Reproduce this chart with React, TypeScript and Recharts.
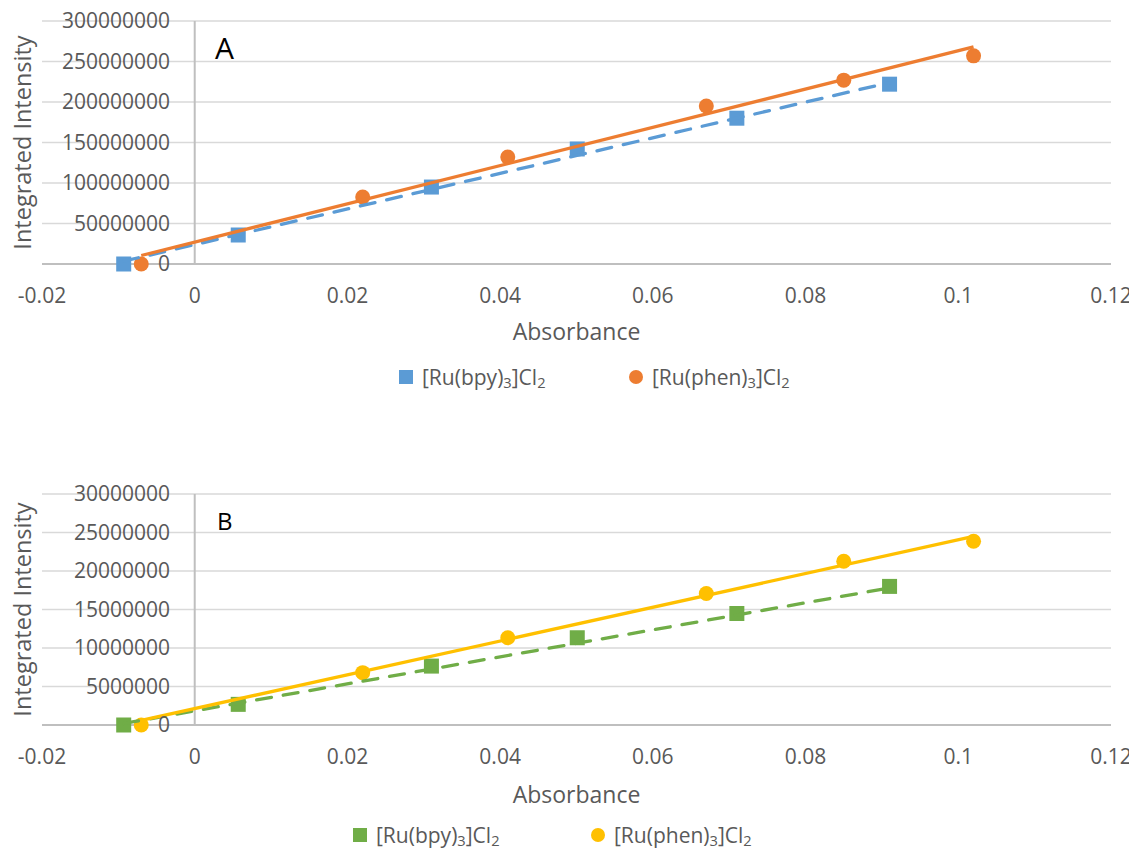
import { ScatterChart, Scatter, XAxis, YAxis, CartesianGrid, ReferenceLine } from 'recharts';

const FONT = '"Open Sans", "Liberation Sans", sans-serif';
const TEXT = '#595959';

// Absorbance values shared by both panels
const absBpy = [-0.0093, 0.0057, 0.031, 0.0501, 0.071, 0.091];
const absPhen = [-0.007, 0.022, 0.041, 0.067, 0.085, 0.102];

// Panel A intensities
const intensityBpyA = [0, 35800000, 95000000, 142000000, 180000000, 222000000];
const intensityPhenA = [0, 82700000, 132000000, 195000000, 227000000, 257000000];

// Panel B intensities
const intensityBpyB = [0, 2680000, 7650000, 11330000, 14480000, 18000000];
const intensityPhenB = [0, 6800000, 11330000, 17070000, 21260000, 23860000];

// Linear trendline end points
const trendBpyAbs = [-0.0093, 0.091];
const trendPhenAbs = [-0.007, 0.102];
const trendBpyA = [3500000, 224000000];
const trendPhenA = [10500000, 268000000];
const trendBpyB = [200000, 17800000];
const trendPhenB = [600000, 24500000];

const xTicks = [-0.02, 0, 0.02, 0.04, 0.06, 0.08, 0.1, 0.12];
const yTicksA = [0, 50000000, 100000000, 150000000, 200000000, 250000000, 300000000];
const yTicksB = [0, 5000000, 10000000, 15000000, 20000000, 25000000, 30000000];

const toPoints = (xs: number[], ys: number[]) => xs.map((x, i) => ({ x, y: ys[i] }));

const squareShape = (color: string) => (props: any) => (
  <rect x={props.cx - 7.5} y={props.cy - 7.5} width={15} height={15} fill={color} />
);
const circleShape = (color: string) => (props: any) => (
  <circle cx={props.cx} cy={props.cy} r={7.5} fill={color} />
);
const noShape = () => <g />;

// y labels sit next to the value axis, which crosses at x = 0
const YTick = (props: any) => (
  <text x={props.x + 128} y={props.y} dy={7} textAnchor="end" fontSize={21} fontFamily={FONT} fill={TEXT}>
    {props.payload.value}
  </text>
);

interface PanelProps {
  height: number;
  top: number;
  axisHeight: number;
  titleOffset: number;
  yTicks: number[];
  bpy: { x: number; y: number }[];
  phen: { x: number; y: number }[];
  bpyTrend: { x: number; y: number }[];
  phenTrend: { x: number; y: number }[];
  bpyColor: string;
  phenColor: string;
}

function Panel(p: PanelProps) {
  const yMax = p.yTicks[p.yTicks.length - 1];
  return (
    <ScatterChart width={1137} height={p.height} margin={{ top: p.top, right: 26, bottom: 0, left: 0 }}>
      <CartesianGrid vertical={false} stroke="#d9d9d9" strokeWidth={1.5} />
      <XAxis
        type="number"
        dataKey="x"
        domain={[-0.02, 0.12]}
        ticks={xTicks}
        height={p.axisHeight}
        axisLine={false}
        tickLine={false}
        tickSize={0}
        tickMargin={24}
        tick={{ fontSize: 21, fontFamily: FONT, fill: TEXT }}
        label={{ value: 'Absorbance', position: 'insideTop', offset: p.titleOffset, fontSize: 23, fontFamily: FONT, fill: TEXT }}
      />
      <YAxis
        type="number"
        dataKey="y"
        domain={[0, yMax]}
        ticks={p.yTicks}
        width={42}
        axisLine={false}
        tickLine={false}
        tickSize={0}
        tickMargin={0}
        tick={YTick}
        label={{ value: 'Integrated Intensity', angle: -90, position: 'center', dx: 2, fontSize: 23.5, fontFamily: FONT, fill: TEXT }}
      />
      <ReferenceLine y={0} stroke="#bfbfbf" strokeWidth={2} />
      <ReferenceLine x={0} stroke="#bfbfbf" strokeWidth={2} />
      <Scatter data={p.bpy} shape={squareShape(p.bpyColor)} isAnimationActive={false} />
      <Scatter data={p.phen} shape={circleShape(p.phenColor)} isAnimationActive={false} />
      <Scatter
        data={p.bpyTrend}
        shape={noShape}
        line={{ stroke: p.bpyColor, strokeWidth: 3.3, strokeDasharray: '15 12', strokeLinecap: 'round' }}
        isAnimationActive={false}
      />
      <Scatter
        data={p.phenTrend}
        shape={noShape}
        line={{ stroke: p.phenColor, strokeWidth: 3.3 }}
        isAnimationActive={false}
      />
    </ScatterChart>
  );
}

function Formula({ ligand }: { ligand: string }) {
  return (
    <span>
      [Ru({ligand})<sub style={{ fontSize: '0.7em', verticalAlign: '-0.2em' }}>3</sub>]Cl
      <sub style={{ fontSize: '0.7em', verticalAlign: '-0.2em' }}>2</sub>
    </span>
  );
}

function LegendItem({ left, top, color, round, ligand }: { left: number; top: number; color: string; round: boolean; ligand: string }) {
  return (
    <div style={{ position: 'absolute', left, top, display: 'flex', alignItems: 'center', fontFamily: FONT, fontSize: 21, color: TEXT, whiteSpace: 'nowrap' }}>
      <span style={{ width: 14, height: 14, background: color, borderRadius: round ? 7 : 0, marginRight: 9, display: 'inline-block' }} />
      <Formula ligand={ligand} />
    </div>
  );
}

export default function App() {
  const blue = '#5b9bd5';
  const orange = '#ed7d31';
  const green = '#70ad47';
  const gold = '#ffc000';
  return (
    <div style={{ position: 'relative', width: 1129, height: 841 }}>
      <div style={{ position: 'absolute', left: -8, top: -8 }}>
        <Panel
          height={418}
          top={21}
          axisHeight={154}
          titleOffset={60}
          yTicks={yTicksA}
          bpy={toPoints(absBpy, intensityBpyA)}
          phen={toPoints(absPhen, intensityPhenA)}
          bpyTrend={toPoints(trendBpyAbs, trendBpyA)}
          phenTrend={toPoints(trendPhenAbs, trendPhenA)}
          bpyColor={blue}
          phenColor={orange}
        />
      </div>
      <div style={{ position: 'absolute', left: 207, top: 25, fontFamily: FONT, fontSize: 30, lineHeight: '30px', color: '#000' }}>A</div>
      <LegendItem left={391} top={355} color={blue} round={false} ligand="bpy" />
      <LegendItem left={621} top={355} color={orange} round={true} ligand="phen" />

      <div style={{ position: 'absolute', left: -8, top: 460 }}>
        <Panel
          height={381}
          top={26}
          axisHeight={124}
          titleOffset={62}
          yTicks={yTicksB}
          bpy={toPoints(absBpy, intensityBpyB)}
          phen={toPoints(absPhen, intensityPhenB)}
          bpyTrend={toPoints(trendBpyAbs, trendBpyB)}
          phenTrend={toPoints(trendPhenAbs, trendPhenB)}
          bpyColor={green}
          phenColor={gold}
        />
      </div>
      <div style={{ position: 'absolute', left: 209, top: 501, fontFamily: FONT, fontSize: 24, lineHeight: '24px', color: '#000' }}>B</div>
      <LegendItem left={345} top={813} color={green} round={false} ligand="bpy" />
      <LegendItem left={583} top={813} color={gold} round={true} ligand="phen" />
    </div>
  );
}
